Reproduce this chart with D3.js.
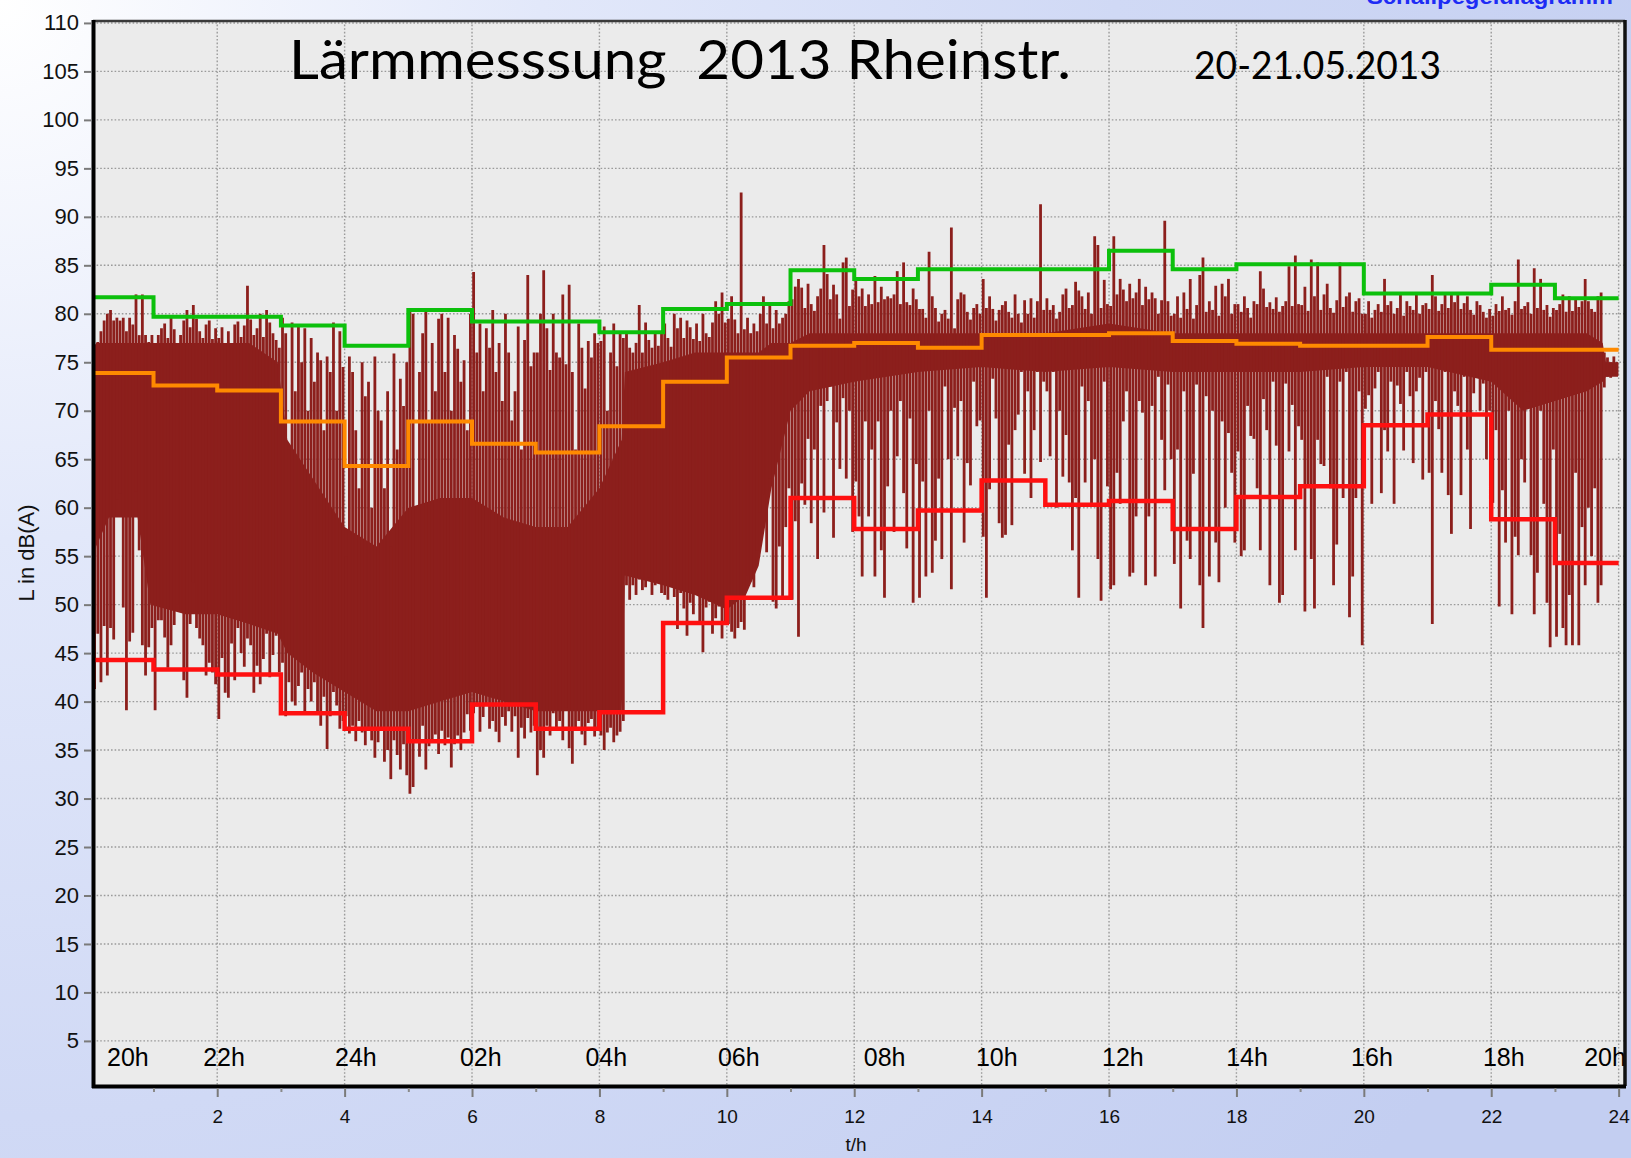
<!DOCTYPE html>
<html>
<head>
<meta charset="utf-8">
<script src="https://cdn.jsdelivr.net/npm/d3@7"></script>
<style>
	html, body { margin: 0; padding: 0; overflow: hidden; background: #fff; }
	svg { display: block; }
</style>
</head>
<body>
<svg id="plot" width="1631" height="1158"></svg>
<script>
function whenDocumentLoaded(action) {
	if (document.readyState === "loading") {
		document.addEventListener("DOMContentLoaded", action);
	} else {
		action();
	}
}

// axis ticks
const Y_TICKS = [5, 10, 15, 20, 25, 30, 35, 40, 45, 50, 55, 60, 65, 70, 75, 80, 85, 90, 95, 100, 105, 110];
const X_TICKS = [2, 4, 6, 8, 10, 12, 14, 16, 18, 20, 22, 24];
const X_MINOR = [1, 3, 5, 7, 9, 11, 13, 15, 17, 19, 21, 23];

// clock time labels written inside the plot (position in hours on the t/h axis)
const CLOCK_LABELS = ['20h', '22h', '24h', '02h', '04h', '06h', '08h', '10h', '12h', '14h', '16h', '18h', '20h'];
const CLOCK_AT = [0.27, 1.78, 3.85, 5.81, 7.78, 9.86, 12.15, 13.91, 15.89, 17.84, 19.80, 21.87, 23.46];

// hourly levels, dB(A)
const HOURS = [0, 1, 2, 3, 4, 5, 6, 7, 8, 9, 10, 11, 12, 13, 14, 15, 16, 17, 18, 19, 20, 21, 22, 23];
const LMAX = [81.7, 79.7, 79.7, 78.8, 76.7, 80.4, 79.2, 79.2, 78.1, 80.5, 81.0, 84.5, 83.6, 84.6, 84.6, 84.6, 86.5, 84.6, 85.1, 85.1, 82.1, 82.1, 83.0, 81.6];
const LEQ = [73.9, 72.6, 72.1, 68.9, 64.3, 68.9, 66.6, 65.7, 68.4, 73.0, 75.5, 76.7, 77.0, 76.5, 77.8, 77.8, 78.0, 77.2, 76.9, 76.7, 76.7, 77.6, 76.3, 76.3];
const L95 = [44.3, 43.3, 42.8, 38.8, 37.2, 35.9, 39.7, 37.2, 38.9, 48.1, 50.7, 61.0, 57.8, 59.7, 62.8, 60.3, 60.7, 57.8, 61.1, 62.2, 68.5, 69.6, 58.8, 54.3];

// level trace: solid band of the record (time in hours)
const CORE_T  = [0, 0.1, 0.3, 0.75, 0.95, 1.5, 2, 2.5, 2.95, 3.1, 3.5, 4, 4.5, 5, 5.5, 6, 6.5, 7, 7.5, 8, 8.35, 8.4, 9, 9.5, 10, 10.3, 10.5, 10.7, 11, 11.3, 12, 13, 14, 15, 16, 17, 18, 19, 20, 21, 22, 22.5, 23, 23.5, 23.75, 23.8, 23.99];
const CORE_HI = [76, 77, 77, 77, 77, 77, 77, 77, 75, 67, 63, 58, 56, 60, 61, 61, 59, 58, 58, 62, 67, 74, 75, 76, 76, 76, 76, 77, 77, 78, 78, 78, 78, 78, 79, 78, 78, 78, 78, 78, 78, 78, 78, 78, 77, 75, 75];
const CORE_LO = [45, 56, 59, 59, 50, 49, 49, 48, 47, 45, 43, 41, 39, 39, 40, 41, 40, 39, 39, 39, 39, 53, 52, 51, 49.5, 51, 54, 62, 70, 72, 73, 74, 74.5, 74, 74.5, 74, 74, 74, 74.5, 74.5, 73, 70, 71, 72, 73, 73.5, 73.5];

// level trace: highest / lowest value in each 3-minute slice (20 per hour)
const TRACE_STEP = 0.05;
const TRACE_HI = [
	[79.1,75.6,77.1,78.2,79.3,80,80.4,79.3,79.6,79.3,79.6,78.2,79.6,78.9,82,77.8,82,77.8,77.1,77.8],
	[76.5,77.8,78.5,79,77.5,79.6,78.4,76.8,77.8,79.3,80.4,78.6,80.9,79.5,78.2,77.5,78.9,79.3,77.4,78.5],
	[77.5,78.6,77,78.2,76.4,78.9,79.2,77.6,78.8,82.9,79.4,77.8,78.5,80,77.6,80.4,79.1,78,77.3,76.5],
	[79.6,78,66,79.1,72,78.9,75,78.5,70,77.5,73,76,75.2,68,75.6,74,79.1,70,78.2,74.5],
	[55,75.6,74,68,62,75,71.5,73,60,75.6,70,69,62,72,56,75.9,66,73.3,70.5,75],
	[80.4,80,60,74,78,80.4,69,77,72,79.5,80,74,79.6,70,77.8,76.4,73,75.2,68,80],
	[84.3,76,79,72,78.5,76.5,80.4,74,77,71,80,76,69,72,78.7,66,77.3,84,74.6,76],
	[76,80,84.5,78.5,74.2,80,76,75.5,82,74.8,83,74,66,79,76.5,72.3,77.2,75.5,78,77],
	[77.2,78.7,70,76,79,74.6,78,77.5,78,76.5,76,77,80.9,76,79.1,77.3,76.5,78,76.7,78],
	[79,77.5,76.6,80,78.5,79.6,77.5,79.3,78.6,77.4,79,77.2,80,78,77.6,79.1,81.3,80,82.2,79.1],
	[79.5,81.8,79.4,78,92.5,78.4,79.6,78,79,78.2,80,81.8,79,80.9,78.5,80.4,79,79.6,80,81.3],
	[81.5,82.8,83.6,82.7,80.6,83.1,81,80.3,81.8,82.6,87.1,84.1,81.5,83,82,79.5,85.3,85.8,80.8,82.5],
	[83.5,81.8,82.6,80.8,82,81,83.9,81.2,82.8,81.5,81.8,81.6,82,84.4,81,85.3,81.2,80.9,82.6,81.5],
	[80.5,80.5,79.6,86.4,81.8,80.6,79.2,80,80.4,79.5,88.9,78.5,81.5,82.2,82,80.2,79.4,80.6,81,80],
	[83.6,80.6,81.8,80.5,79.3,80.4,80.9,81.3,80.2,79.6,82,80,79.1,81.4,80,81.6,79.6,81.3,91.3,80.4],
	[81.6,80.4,80.9,79.5,80.2,82,82.6,80.6,80.9,83.3,82.4,81.8,80.5,82.2,80,88,87.1,80.6,83.5,81],
	[80.8,88,82,83.6,82.5,81.3,83.1,81.6,82.2,83.6,80.9,82.8,81.5,82.2,81.6,80,81.4,89.6,81.3,79.8],
	[80,81.8,79.6,82.2,80.5,83.6,79.5,80.9,84,85.8,80.2,81.3,80.4,82.9,79.8,83.1,81.8,83.6,80,81],
	[81,80.2,81.8,80.6,79.6,81.3,81,84.4,82.6,80.7,81.2,80.5,81.7,80.2,80.8,81.3,84.9,80.8,86,81],
	[80.9,82.8,80.3,85.6,81.8,85.3,80.4,82,83.1,80.6,80.1,81.4,85.3,80.7,81.8,82.2,80.2,81.3,81.6,80],
	[80,81.3,79.6,80.4,81,80.2,83.6,80.9,81.3,80,80.6,82.2,79.8,81.3,80.8,80.4,82.2,80,80.9,81.1],
	[80.5,84,81.8,80.3,81,82,80.6,82,81.2,82,80.5,81.1,81.8,80.4,79.9,81.3,80.9,80.2,79.6,80.5],
	[79.8,81,80.3,81.8,80.4,80.6,79.9,81.3,85.6,80.5,80.8,81.2,80,84.7,80.6,83.6,80.4,80.9,79.7,80.6],
	[80.4,81,82,80.2,81.8,80.3,81.6,80.7,81.3,83.6,81.3,80.5,80.2,81.8,82.2,76,75.5,75,75.6,75]
].flat();
const TRACE_LO = [
	[42,41.3,47,42,47.8,42.7,47.6,46.4,60.8,61.5,49.7,39.1,46.2,47.1,61.7,55.6,45.8,42.7,45.6,47.6],
	[39.1,48.4,48.4,46.6,43.5,45.8,47.9,50,49.3,42.2,40.4,48,52.3,47.6,46.5,45.8,42.7,44,43,41.8],
	[38.2,44.5,40.9,40.4,46,42.2,47.6,45,43.6,46.5,45.8,40.9,43.7,41.8,44.4,47,42.5,44.8,46.8,43],
	[44,38.5,42,40,39.6,41.6,43,38.9,41.3,40,42,39,37.5,40.5,35.1,38.5,41,39.6,37.2,38],
	[38.5,36.7,37.5,35.9,38,36.8,35.5,37.2,36,34.2,35.8,37,33.8,35,32,36,34.5,33,35.6,32.4],
	[30.5,31.2,36,34.3,37.5,33,35.4,35.8,36.6,34.6,37,35.5,36.3,33.2,35.6,36.5,35,36.8,38.7,37],
	[38.8,39.5,36.9,38.4,39.6,37.2,38,36.9,35.8,38.4,37.5,39,36.9,38.5,34.2,37.3,36.2,38.3,36.8,37.5],
	[32.4,35,34.2,37.5,36.5,38.8,37.2,38,36,39.4,35.2,33.6,37.3,38,36.6,35.5,37.8,38.2,36.4,37],
	[36.5,35,36.8,37.3,35.8,36.5,36.9,38,52,50.5,52,51,52.6,51.5,51.8,52.8,51,52,53.3,51.2],
	[51,50.5,52,50.8,47.5,51.2,49.6,46.8,50.2,49,51,48.2,45.1,49.7,50.3,47,48.6,49.8,46.5,48.3],
	[48,47.2,46.5,47.6,48.2,47.4,53,52.4,51.8,55.6,59.5,61.4,55.4,63,50.3,49.6,56,50.8,58,62],
	[50.5,58.6,46.7,62.5,60.3,67.1,58.4,66,54.7,70.5,59.5,71,72.5,56.9,68.8,64,71.3,63,70,57.5],
	[62.7,59.1,52.9,68.9,59.1,66,52.9,68.9,55.6,50.7,62.2,70,57.5,65.3,71,61.5,55.8,69.2,50.2,64.5],
	[50.7,62.7,52.9,70,53.3,56.6,63,54.7,72.5,65,51.6,70.3,65.3,71,56.4,64.6,62.3,73,68.4,69],
	[57,50.7,61.9,73.3,69.2,58.4,56.9,57.2,66.5,58.2,68,69.6,74,63.5,72,61,68,74,64.7,73],
	[72,65.3,74,60,70,63.2,67.5,62.6,55.6,61,50.7,72.5,62.6,71,60.4,65,54.7,50.4,73,62.2],
	[51.6,52,63.6,60.4,68.9,72,52.9,53.3,59.1,71,69.8,52,59.1,70.5,52.9,73.5,67,61.8,72.7,65],
	[54.2,66,49.6,72,56.6,54.7,63.5,72.7,52,47.6,71.5,52.9,70,56.4,52.3,68.9,60,67.7,63.6,56.4],
	[65.8,55,55.6,70.5,67.4,67.1,62,55.6,71.2,68,52,73,66.4,50.2,51,72.8,65.8,70.6,55.6,68.4],
	[67,49.3,62.4,54.7,49.6,67,64.5,64.3,73.5,62,52,56.2,73,61,74,48.7,52.9,61,72,45.8],
	[70.2,71.6,60.4,72.3,74,61.5,68,65.8,73,60.4,72.6,70.7,65.9,74,71.5,64.6,72,73.4,62.9,74],
	[63.6,48,71,68.1,63.6,74,61.3,57.3,72,70.5,61.3,73.5,66,57.8,71.8,74.2,70,72.8,65,70],
	[60.5,68,49.8,61.8,56.4,70,49,57,55.1,65,62.6,72,55.1,49,53.3,70,60.4,50.2,45.6,66],
	[46.7,57.3,47.6,45.8,51,45.8,63.6,45.8,58,52,60,55,62,50.2,52,72.4,73.5,73.4,73.8,73.6]
].flat();

const PLOT = { left: 93, right: 1625, top: 21, bottom: 1086 };

class NoiseChart {
	constructor(id) {
		this.svg = d3.select('#' + id);
		this.x = d3.scaleLinear().domain([0.05, 24.1]).range([PLOT.left, PLOT.right]);
		this.y = d3.scaleLinear().domain([0.35, 110.2]).range([PLOT.bottom, PLOT.top]);
	}

	show() {
		const svg = this.svg, x = this.x, y = this.y;
		const defs = svg.append('defs');

		let bg = defs.append('radialGradient')
			.attr('id', 'bg').attr('gradientUnits', 'userSpaceOnUse')
			.attr('cx', 0).attr('cy', 0).attr('r', 1800);
		bg.append('stop').attr('offset', '0').attr('stop-color', '#ffffff');
		bg.append('stop').attr('offset', '0.3').attr('stop-color', '#e2e8fa');
		bg.append('stop').attr('offset', '0.62').attr('stop-color', '#d0d9f5');
		bg.append('stop').attr('offset', '1').attr('stop-color', '#c3cef1');

		defs.append('clipPath').attr('id', 'clip')
			.append('rect')
			.attr('x', PLOT.left).attr('y', PLOT.top)
			.attr('width', PLOT.right - PLOT.left).attr('height', PLOT.bottom - PLOT.top);

		svg.append('rect').attr('width', 1631).attr('height', 1158).attr('fill', 'url(#bg)');
		svg.append('rect')
			.attr('x', PLOT.left).attr('y', PLOT.top)
			.attr('width', PLOT.right - PLOT.left).attr('height', PLOT.bottom - PLOT.top)
			.attr('fill', '#ebebeb');

		// dotted grid
		let grid = svg.append('g').attr('stroke', '#9a9a9a').attr('stroke-width', 1.4).attr('stroke-dasharray', '1.6,2');
		grid.selectAll('.gy').data(Y_TICKS).enter().append('line')
			.attr('x1', PLOT.left).attr('x2', PLOT.right)
			.attr('y1', d => y(d)).attr('y2', d => y(d));
		grid.selectAll('.gx').data(X_TICKS).enter().append('line')
			.attr('y1', PLOT.top).attr('y2', PLOT.bottom)
			.attr('x1', d => x(d)).attr('x2', d => x(d));

		let plot = svg.append('g').attr('clip-path', 'url(#clip)');
		const trace = '#8c1f1c';

		// solid band of the level record
		const core = CORE_T.map((t, i) => ({ t: t, hi: CORE_HI[i], lo: CORE_LO[i] }));
		plot.append('path')
			.datum(core)
			.attr('fill', trace)
			.attr('d', d3.area().x(d => x(d.t)).y0(d => y(d.lo)).y1(d => y(d.hi)));

		// min/max strokes of the record
		const cols = TRACE_HI.map((hi, i) => ({ t: i * TRACE_STEP + TRACE_STEP / 2, hi: hi, lo: TRACE_LO[i] }));
		plot.selectAll('.col').data(cols).enter().append('line')
			.attr('x1', d => x(d.t)).attr('x2', d => x(d.t))
			.attr('y1', d => y(d.hi)).attr('y2', d => y(d.lo))
			.attr('stroke', trace).attr('stroke-width', 2.8);

		// hourly step lines
		const step = d3.line().curve(d3.curveStepAfter).x(d => x(d[0])).y(d => y(d[1]));
		const series = [
			{ vals: L95, color: '#ff1010', w: 4.5 },
			{ vals: LEQ, color: '#ff8a00', w: 4 },
			{ vals: LMAX, color: '#0cc00c', w: 4 }
		];
		series.forEach(s => {
			let pts = HOURS.map((h, i) => [h, s.vals[i]]);
			pts.push([24, s.vals[s.vals.length - 1]]);
			plot.append('path').datum(pts)
				.attr('fill', 'none').attr('stroke', s.color).attr('stroke-width', s.w)
				.attr('d', step);
		});

		// clock labels inside the plot
		svg.selectAll('.clock').data(CLOCK_LABELS).enter().append('text')
			.attr('x', (d, i) => x(CLOCK_AT[i]))
			.attr('y', 1066)
			.attr('font-family', 'Liberation Sans, Arial, sans-serif')
			.attr('font-size', 25)
			.attr('fill', '#000')
			.text(d => d);

		// frame
		svg.append('line').attr('x1', PLOT.left).attr('x2', PLOT.right).attr('y1', PLOT.top).attr('y2', PLOT.top)
			.attr('stroke', '#3a3a3a').attr('stroke-width', 2.5);
		svg.append('line').attr('x1', PLOT.right).attr('x2', PLOT.right).attr('y1', PLOT.top - 1).attr('y2', PLOT.bottom)
			.attr('stroke', '#111').attr('stroke-width', 3.5);
		svg.append('line').attr('x1', PLOT.left + 0.5).attr('x2', PLOT.left + 0.5).attr('y1', PLOT.top - 1).attr('y2', PLOT.bottom + 2)
			.attr('stroke', '#000').attr('stroke-width', 4);
		svg.append('line').attr('x1', PLOT.left - 1).attr('x2', PLOT.right + 1).attr('y1', PLOT.bottom + 0.5).attr('y2', PLOT.bottom + 0.5)
			.attr('stroke', '#000').attr('stroke-width', 4);

		// y axis
		let axisY = svg.append('g')
			.attr('transform', `translate(${PLOT.left - 2},0)`)
			.call(d3.axisLeft(y).tickValues(Y_TICKS).tickSize(7).tickPadding(5));
		axisY.select('.domain').remove();
		axisY.selectAll('line').attr('stroke', '#7a7a7a').attr('stroke-width', 2);
		axisY.selectAll('text')
			.attr('font-family', 'Liberation Sans, Arial, sans-serif')
			.attr('font-size', 22).attr('fill', '#111');

		// x axis
		let axisX = svg.append('g')
			.attr('transform', `translate(0,${PLOT.bottom + 2})`)
			.call(d3.axisBottom(x).tickValues(X_TICKS).tickSize(9).tickPadding(13));
		axisX.select('.domain').remove();
		axisX.selectAll('line').attr('stroke', '#7a7a7a').attr('stroke-width', 2);
		axisX.selectAll('text')
			.attr('font-family', 'Liberation Sans, Arial, sans-serif')
			.attr('font-size', 19).attr('fill', '#111');

		let minorX = svg.append('g')
			.attr('transform', `translate(0,${PLOT.bottom + 2})`)
			.call(d3.axisBottom(x).tickValues(X_MINOR).tickSize(4).tickFormat(''));
		minorX.select('.domain').remove();
		minorX.selectAll('line').attr('stroke', '#8a8a8a').attr('stroke-width', 2);

		// axis titles
		svg.append('text')
			.attr('transform', 'translate(34,553) rotate(-90)')
			.attr('text-anchor', 'middle')
			.attr('font-family', 'Liberation Sans, Arial, sans-serif')
			.attr('font-size', 22).attr('fill', '#111')
			.text('L in dB(A)');
		svg.append('text')
			.attr('x', 856).attr('y', 1151)
			.attr('text-anchor', 'middle')
			.attr('font-family', 'Liberation Sans, Arial, sans-serif')
			.attr('font-size', 19).attr('fill', '#111')
			.text('t/h');

		// headings
		svg.append('text')
			.attr('x', 289).attr('y', 79)
			.attr('font-family', 'Lato, Open Sans, sans-serif')
			.attr('font-size', 55).attr('fill', '#000')
			.attr('textLength', 782).attr('lengthAdjust', 'spacingAndGlyphs')
			.style('white-space', 'pre')
			.text('Lärmmesssung  2013 Rheinstr.');
		svg.append('text')
			.attr('x', 1194).attr('y', 79)
			.attr('font-family', 'Lato, Open Sans, sans-serif')
			.attr('font-size', 38).attr('fill', '#000')
			.attr('textLength', 247).attr('lengthAdjust', 'spacingAndGlyphs')
			.text('20-21.05.2013');
		svg.append('text')
			.attr('x', 1367).attr('y', 4)
			.attr('font-family', 'Liberation Sans, Arial, sans-serif')
			.attr('font-weight', 'bold')
			.attr('font-size', 22).attr('fill', '#1e2cf5')
			.attr('textLength', 246).attr('lengthAdjust', 'spacingAndGlyphs')
			.text('Schallpegeldiagramm');
	}
}

whenDocumentLoaded(() => {
	const chart = new NoiseChart('plot');
	chart.show();
});
</script>
</body>
</html>
